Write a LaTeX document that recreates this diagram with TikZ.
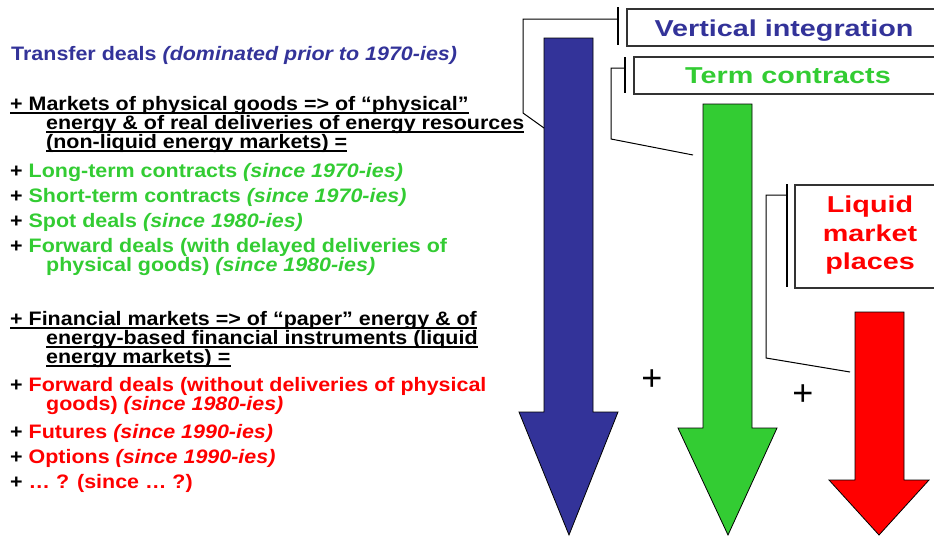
\documentclass[tikz,border=0pt]{standalone}
\usepackage{fontspec}
\setmainfont{Liberation Sans}[FakeStretch=1.1]
\newfontfamily\boxfont{Liberation Sans}[FakeStretch=1.25]
\newfontfamily\plusfont{Liberation Sans}
\definecolor{cblue}{HTML}{333399}
\definecolor{cgreen}{HTML}{33CC33}
\definecolor{cred}{HTML}{FF0000}
\definecolor{boxgray}{HTML}{333333}
\begin{document}
\begin{tikzpicture}[x=1pt,y=-1pt,
  lt/.style={anchor=base west, inner sep=0pt, font=\fontsize{19.5}{19.5}\selectfont\bfseries},
  uline/.style={line width=2pt, black},
  bx/.style={draw=boxgray, line width=1.6pt, anchor=north west, inner sep=0pt},
  brk/.style={line width=1.3pt, black},
  call/.style={line width=1pt, black},
  arr/.style={draw=black, line width=0.8pt, line join=miter},
  bt/.style={inner sep=0pt, anchor=base, font=\boxfont\fontsize{23}{23}\selectfont\bfseries},
  plus/.style={inner sep=0pt, font=\plusfont\fontsize{36}{36}\selectfont}]
\useasboundingbox (0,0) rectangle (934,536);
\begin{scope}
\clip (0,0) rectangle (934,536);

% ---------- left text ----------
\node[lt, text=cblue] (t0) at (11,60) {Transfer deals \textit{(dominated prior to 1970-ies)}};

\node[lt] (m1) at (10,110) {+ Markets of physical goods => of “physical”};
\node[lt] (m2) at (46,129) {energy \& of real deliveries of energy resources};
\node[lt] (m3) at (46,148) {(non-liquid energy markets) =};
\foreach \n in {m1,m2,m3}
  \draw[uline] ([yshift=-3pt]\n.base west) -- ([yshift=-3pt]\n.base east);

\node[lt] (g1) at (10,177) {+ \textcolor{cgreen}{Long-term contracts \textit{(since 1970-ies)}}};
\node[lt] (g2) at (10,202) {+ \textcolor{cgreen}{Short-term contracts \textit{(since 1970-ies)}}};
\node[lt] (g3) at (10,227) {+ \textcolor{cgreen}{Spot deals \textit{(since 1980-ies)}}};
\node[lt] (g4) at (10,252) {+ \textcolor{cgreen}{Forward deals (with delayed deliveries of}};
\node[lt, text=cgreen] (g5) at (46,271) {physical goods) \textit{(since 1980-ies)}};

\node[lt] (f1) at (10,325) {+ Financial markets => of “paper” energy \& of};
\node[lt] (f2) at (46,344) {energy-based financial instruments (liquid};
\node[lt] (f3) at (46,363) {energy markets) =};
\foreach \n in {f1,f2,f3}
  \draw[uline] ([yshift=-3pt]\n.base west) -- ([yshift=-3pt]\n.base east);

\node[lt] (r1) at (10,391) {+ \textcolor{cred}{Forward deals (without deliveries of physical}};
\node[lt, text=cred] (r2) at (46,410) {goods) \textit{(since 1980-ies)}};
\node[lt] (r3) at (10,438) {+ \textcolor{cred}{Futures \textit{(since 1990-ies)}}};
\node[lt] (r4) at (10,463) {+ \textcolor{cred}{Options \textit{(since 1990-ies)}}};
\node[lt] (r5) at (10,488) {+ \textcolor{cred}{… ? (since … ?)}};

% ---------- arrows ----------
\filldraw[arr, fill=cblue] (544,38) -- (593,38) -- (593,412) -- (618,412) -- (569,535) -- (519,412) -- (544,412) -- cycle;
\filldraw[arr, fill=cgreen] (703,104) -- (752,104) -- (752,428) -- (777,428) -- (728,535) -- (678,428) -- (703,428) -- cycle;
\filldraw[arr, fill=cred] (855,312) -- (904,312) -- (904,480) -- (929,480) -- (879,535) -- (829,480) -- (855,480) -- cycle;
\coordinate (ablue) at (544,128);
\coordinate (agreen) at (693,155);
\coordinate (ared) at (850,372);

% ---------- boxes ----------
\node[bx, minimum width=316pt, minimum height=37pt] (vi) at (626,8) {};
\node[bt, text=cblue] (vit) at (784,36) {Vertical integration};
\draw[brk] (618,7) -- (618,45);
\coordinate (vic) at (618,19);
\draw[call] (vic) -| (523,113) -- (ablue);

\node[bx, minimum width=310pt, minimum height=37pt] (tc) at (633,56) {};
\node[bt, text=cgreen] (tct) at (788,83) {Term contracts};
\draw[brk] (625,57) -- (625,93);
\coordinate (tcc) at (625,68);
\draw[call] (tcc) -| (611,139) -- (agreen);

\node[bx, minimum width=152pt, minimum height=103pt] (lq) at (794,184) {};
\node[bt, text=cred] (lq1) at (870,212) {Liquid};
\node[bt, text=cred] (lq2) at (870,241) {market};
\node[bt, text=cred] (lq3) at (870,269) {places};
\draw[brk] (787,184) -- (787,287);
\coordinate (lqc) at (787,195);
\draw[call] (lqc) -| (766,358) -- (ared);

% ---------- plus signs ----------
\node[plus] (p1) at (652,380) {+};
\node[plus] (p2) at (803,395) {+};
\end{scope}
\end{tikzpicture}
\end{document}
